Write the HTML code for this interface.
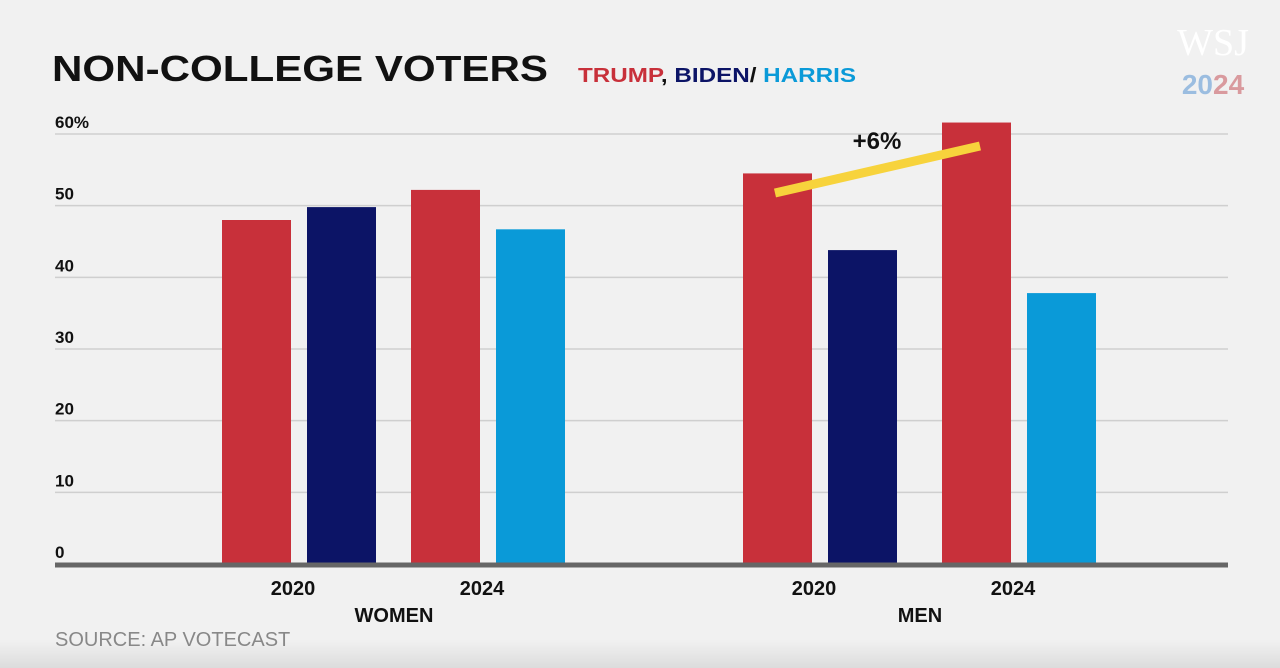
<!DOCTYPE html>
<html><head><meta charset="utf-8"><style>
html,body{margin:0;padding:0;width:1280px;height:668px;overflow:hidden;background:#f1f1f1;font-family:"Liberation Sans",sans-serif}
#wrap{position:relative;width:1280px;height:668px;background:linear-gradient(#f1f1f1 0,#f1f1f1 640px,#dcdcdc 668px)}
</style></head><body>
<div id="wrap">
<svg id="chart" width="1280" height="668">
<text x="52" y="81" font-size="36" font-weight="bold" fill="#111" textLength="496" lengthAdjust="spacingAndGlyphs">NON-COLLEGE VOTERS</text>
<text x="578" y="82" font-size="20" font-weight="bold" textLength="278" lengthAdjust="spacingAndGlyphs"><tspan fill="#c8303a">TRUMP</tspan><tspan fill="#111">, </tspan><tspan fill="#0c1466">BIDEN</tspan><tspan fill="#111">/ </tspan><tspan fill="#0a9ad8">HARRIS</tspan></text>
<text x="1213" y="55" font-size="38" font-family="Liberation Serif,serif" fill="#fff" text-anchor="middle">WSJ</text>
<text x="1213" y="94" font-size="28" font-weight="bold" text-anchor="middle"><tspan fill="#9bbde0">20</tspan><tspan fill="#d99a9e">24</tspan></text>
<g id="grid"></g><g id="bars"></g><g id="labels"></g>
<line x1="775" y1="193" x2="980" y2="146" stroke="#f7d33c" stroke-width="9"/>
<text x="877" y="149" font-size="24" font-weight="bold" fill="#111" text-anchor="middle">+6%</text>
<text x="55" y="646" font-size="20" fill="#888">SOURCE: AP VOTECAST</text>
</svg></div>
<script>
const ticks=[0,10,20,30,40,50,60];
const tickLabels=["0","10","20","30","40","50","60%"];
const groups=["WOMEN","MEN"];
const years=["2020","2024"];
const trump=[[48.0,52.2],[54.5,61.6]];
const dem=[[49.8,46.7],[43.8,37.8]];
const y0=564,yPer=(564-134)/60;
const y=v=>y0-v*yPer;
const groupX=[222,743],yearOff=[[0,189],[0,199]],bw=69,gap=16;
const NS="http://www.w3.org/2000/svg";
function mk(tag,attrs,parent){const e=document.createElementNS(NS,tag);for(const k in attrs)e.setAttribute(k,attrs[k]);document.getElementById(parent).appendChild(e);return e;}
ticks.forEach((t,i)=>{
 if(t>0){const l=mk('line',{x1:55,x2:1228,y1:y(t),y2:y(t),stroke:'#cfcfcf','stroke-width':1.5},'grid');
 
 }
 const tx=mk('text',{x:55,y:y(t)-6,'font-size':17,'font-weight':'bold',fill:'#111'},'labels');tx.textContent=tickLabels[i];
 
 
});
groups.forEach((g,gi)=>{
 years.forEach((yr,yi)=>{
  const x=groupX[gi]+yearOff[gi][yi];
  const cols=['#c8303a',yi==0?'#0c1466':'#0a9ad8'];
  [trump[gi][yi],dem[gi][yi]].forEach((v,k)=>{
   const r=mk('rect',{x:x+k*(bw+gap),y:y(v),width:bw,height:y0-y(v),fill:cols[k]},'bars');
   
   
  });
  const t=mk('text',{x:x+bw+gap/2-6,y:595,'font-size':20,'font-weight':'bold',fill:'#111','text-anchor':'middle'},'labels');t.textContent=yr;
  
  
 });
 const gl=mk('text',{x:groupX[gi]+172+(gi?5:0),y:622,'font-size':20,'font-weight':'bold',fill:'#111','text-anchor':'middle'},'labels');gl.textContent=g;
 
 
});
const base=mk('line',{x1:55,x2:1228,y1:565,y2:565,stroke:'#666','stroke-width':5},'bars');


</script>
</body></html>
